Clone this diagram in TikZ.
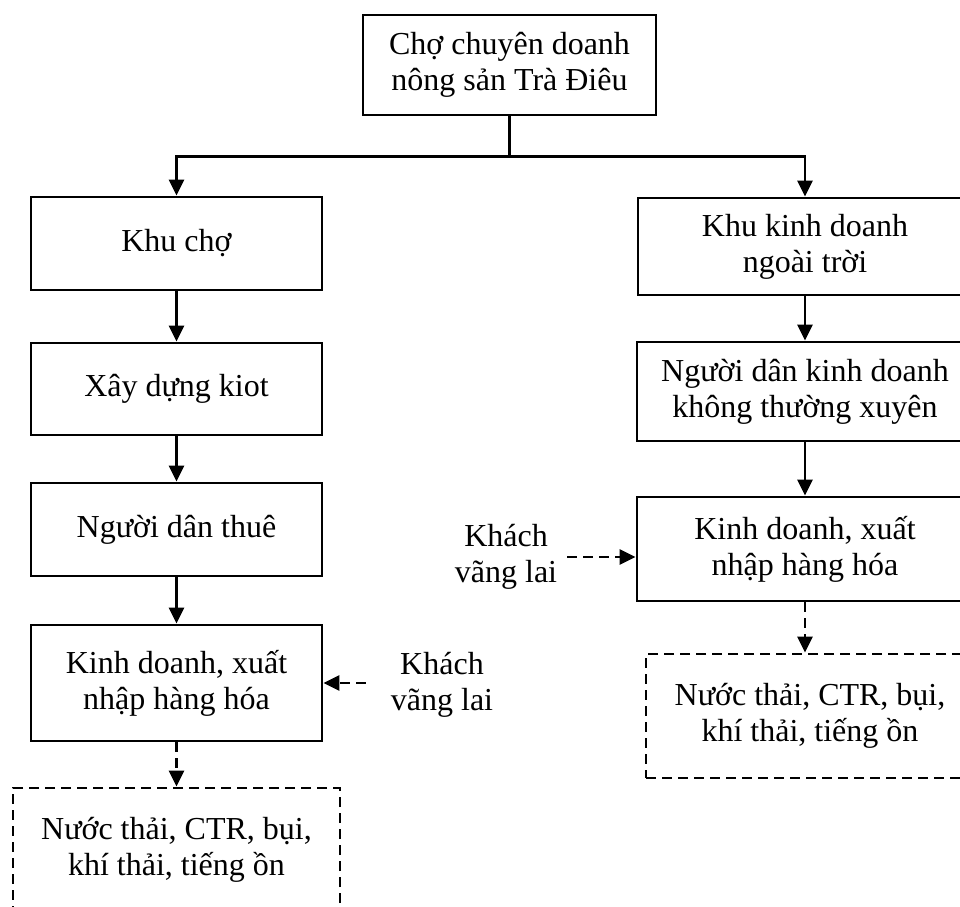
\documentclass[tikz,border=0pt]{standalone}
\usepackage{fontspec}
\setmainfont{Liberation Serif}
\usetikzlibrary{arrows.meta}

\begin{document}
\begin{tikzpicture}[x=1pt,y=-1pt,
  every node/.style={font=\fontsize{32}{36}\selectfont, align=center, inner sep=0pt},
  box/.style={draw, line width=2.8pt, minimum width=#1},
  wastebox/.style={draw, line width=2.8pt, dash pattern=on 10pt off 6pt, minimum width=#1},
  arr/.style={line width=2.8pt, -{Triangle[width=15pt,length=16pt]}},
  dasharr/.style={line width=2.8pt, dash pattern=on 10pt off 6pt, -{Triangle[width=15pt,length=16pt]}}
]
\useasboundingbox (0,0) rectangle (960,906);
\clip (0,0) rectangle (960,906);

% root
\node[box=293pt, minimum height=100pt] (root) at (509.5,65) {Chợ chuyên doanh\\nông sản Trà Điêu};

% left branch: market hall
\node[box=291pt, minimum height=93pt]  (khucho) at (176.5,243.5) {Khu chợ};
\node[box=291pt, minimum height=92pt]  (kiot)   at (176.5,389)   {Xây dựng kiot};
\node[box=291pt, minimum height=93pt]  (thue)   at (176.5,529.5) {Người dân thuê};
\node[box=291pt, minimum height=116pt] (kdL)    at (176.5,683)   {Kinh doanh, xuất\\nhập hàng hóa};
\node[wastebox=327pt, minimum height=124pt] (thaiL) at (176.5,850) {Nước thải, CTR, bụi,\\khí thải, tiếng ồn};
\node (khachL) at (442,685) {Khách\\vãng lai};

% right branch: outdoor trading
\node[box=334pt, minimum height=97pt]  (khukd)    at (805,246.5) {Khu kinh doanh\\ngoài trời};
\node[box=336pt, minimum height=99pt]  (nguoidan) at (805,391.5) {Người dân kinh doanh\\không thường xuyên};
\node[box=336pt, minimum height=104pt] (kdR)      at (805,549)   {Kinh doanh, xuất\\nhập hàng hóa};
\node[wastebox=328pt, minimum height=124pt] (thaiR) at (810,716) {Nước thải, CTR, bụi,\\khí thải, tiếng ồn};
\node (khachR) at (506,557) {Khách\\vãng lai};

% split from the root
\coordinate (split) at ([yshift=-40pt]root.south);
\draw[line width=2.8pt] (root.south) -- (split);
\draw[arr] (split) -| (khucho.north);
\draw[arr] (split) -| (khukd.north);

% left chain
\draw[arr] (khucho) -- (kiot);
\draw[arr] (kiot) -- (thue);
\draw[arr] (thue) -- (kdL);
\draw[dasharr] (kdL.south) -- (thaiL.north);
\draw[dasharr] ([xshift=-25pt]khachL.west |- kdL.east) -- (kdL.east);

% right chain
\draw[arr] (khukd) -- (nguoidan);
\draw[arr] (nguoidan) -- (kdR);
\draw[dasharr] (kdR.south) -- (kdR.south |- thaiR.north);
\draw[dasharr] ([xshift=10pt]khachR.east) -- (kdR.west |- khachR.east);
\end{tikzpicture}
\end{document}
